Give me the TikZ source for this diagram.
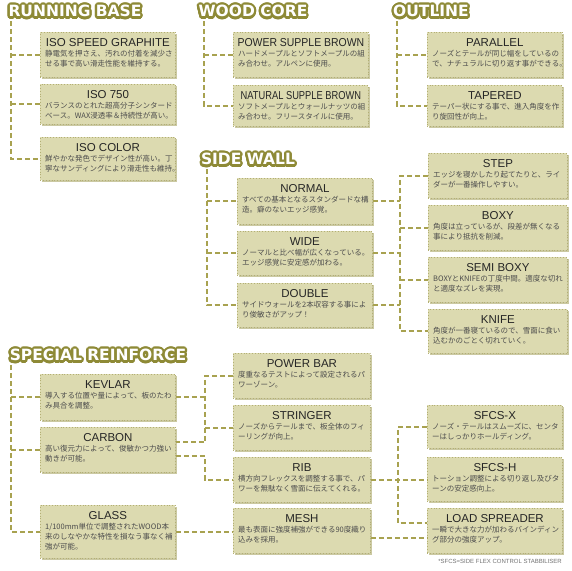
\documentclass[tikz,border=0pt]{standalone}
\usepackage{fontspec}
\usepackage{graphicx}
\usepackage[copies]{contour}
\setmainfont{Liberation Sans}
\newfontfamily\jp{Noto Sans CJK JP}
\newfontfamily\hdfont{DejaVu Sans}
\usetikzlibrary{calc}
\definecolor{olv}{HTML}{8E8A36}
\definecolor{connc}{HTML}{A8A250}
\definecolor{boxfill}{HTML}{DCDAB0}
\definecolor{boxline}{HTML}{B3AF74}
\definecolor{shadowc}{HTML}{CBC9A2}
\definecolor{jptext}{HTML}{4D4D4D}
\contourlength{2.3pt}
\contournumber{20}
\newcommand\hd[1]{\contour{olv}{#1}}
\tikzset{
  hdr/.style={font=\hdfont\bfseries\fontsize{15.5}{15.5}\selectfont, text=white, inner sep=0},
  itembox/.style={draw=boxline, dotted, line width=0.8pt, fill=boxfill, inner sep=0},
  ititle/.style={font=\fontsize{11.5}{12}\selectfont, text=black!85, inner sep=0},
  idesc/.style={font=\jp\fontsize{7.5}{10}\selectfont, text=jptext, align=left, inner sep=0},
  conn/.style={draw=connc, line width=1.9pt, dash pattern=on 5pt off 3pt},
  foot/.style={font=\fontsize{6}{7}\selectfont, text=black!55, inner sep=0}
}
\newcommand\itm[7]{%
  \fill[shadowc] (#2+2,#3+2) rectangle ++(#4,#5);
  \node[itembox, minimum width=#4pt, minimum height=#5pt, anchor=north west] (#1) at (#2,#3) {};
  \node[ititle] (#1t) at ($(#1.north)+(0,11)$) {#6};
  \node[idesc, anchor=north west] (#1d) at ($(#1.north west)+(5,18)$) {#7};
}
\begin{document}
\begin{tikzpicture}[x=1pt,y=-1pt]
\fill[white] (0,0) rectangle (572,570);
\useasboundingbox (0,0) rectangle (572,570);

% headers
\node[hdr] (hRB) at (75,12.5) {\hd{RUNNING BASE}};
\node[hdr] (hWC) at (253,12.5) {\hd{WOOD CORE}};
\node[hdr] (hOL) at (431,12.5) {\hd{OUTLINE}};
\node[hdr] (hSW) at (248,160.5) {\hd{SIDE WALL}};
\node[hdr] (hSR) at (98,356.5) {\hd{SPECIAL REINFORCE}};

% running base
\itm{rb1}{40}{32}{135}{45}{ISO SPEED GRAPHITE}{静電気を押さえ、汚れの付着を減少さ\\せる事で高い滑走性能を維持する。}
\itm{rb2}{40}{84}{135}{40}{ISO 750}{バランスのとれた超高分子シンタード\\ベース。WAX浸透率＆持続性が高い。}
\itm{rb3}{40}{137}{135}{43}{ISO COLOR}{鮮やかな発色でデザイン性が高い。丁\\寧なサンディングにより滑走性も維持。}

% wood core
\itm{wc1}{233}{32}{135}{45}{\scalebox{0.91}[1]{POWER SUPPLE BROWN}}{ハードメープルとソフトメープルの組\\み合わせ。アルペンに使用。}
\itm{wc2}{233}{85}{135}{41}{\scalebox{0.81}[1]{NATURAL SUPPLE BROWN}}{ソフトメープルとウォールナッツの組\\み合わせ。フリースタイルに使用。}

% outline
\itm{ol1}{427}{32}{135}{45}{PARALLEL}{ノーズとテールが同じ幅をしているの\\で、ナチュラルに切り返す事ができる。}
\itm{ol2}{427}{85}{135}{41}{TAPERED}{テーパー状にする事で、進入角度を作\\り旋回性が向上。}

% side wall
\itm{sw1}{237}{178}{135}{46}{NORMAL}{すべての基本となるスタンダードな構\\造。癖のないエッジ感覚。}
\itm{sw2}{237}{231}{135}{44}{WIDE}{ノーマルと比べ幅が広くなっている。\\エッジ感覚に安定感が加わる。}
\itm{sw3}{237}{283}{135}{44}{DOUBLE}{サイドウォールを2本収容する事によ\\り俊敏さがアップ！}

\itm{e1}{428}{153}{139}{45}{STEP}{エッジを寝かしたり起てたりと、ライ\\ダーが一番操作しやすい。}
\itm{e2}{428}{205}{139}{45}{BOXY}{角度は立っているが、段差が無くなる\\事により抵抗を削減。}
\itm{e3}{428}{257}{139}{45}{SEMI BOXY}{BOXYとKNIFEの丁度中間。適度な切れ\\と適度なズレを実現。}
\itm{e4}{428}{309}{139}{44}{KNIFE}{角度が一番寝ているので、雪面に食い\\込むかのごとく切れていく。}

% special reinforce
\itm{sr1}{40}{374}{135}{46}{KEVLAR}{導入する位置や量によって、板のたわ\\み具合を調整。}
\itm{sr2}{40}{427}{135}{45}{CARBON}{高い復元力によって、俊敏かつ力強い\\動きが可能。}
\itm{sr3}{40}{505}{135}{53}{GLASS}{1/100mm単位で調整されたWOOD本\\来のしなやかな特性を損なう事なく補\\強が可能。}

\itm{m1}{233}{353}{137}{45}{POWER BAR}{度重なるテストによって設定されるパ\\ワーゾーン。}
\itm{m2}{233}{405}{137}{45}{STRINGER}{ノーズからテールまで、板全体のフィ\\ーリングが向上。}
\itm{m3}{233}{457}{137}{45}{RIB}{横方向フレックスを調整する事で、パ\\ワーを無駄なく雪面に伝えてくれる。}
\itm{m4}{233}{508}{137}{45}{MESH}{最も表面に強度補強ができる90度織り\\込みを採用。}

\itm{r1}{427}{405}{135}{43}{SFCS-X}{ノーズ・テールはスムーズに、センタ\\ーはしっかりホールディング。}
\itm{r2}{427}{457}{135}{44}{SFCS-H}{トーション調整による切り返し及びタ\\ーンの安定感向上。}
\itm{r3}{427}{508}{135}{45}{LOAD SPREADER}{一瞬で大きな力が加わるバインディン\\グ部分の強度アップ。}

\node[foot, anchor=east] (fn) at (562,561) {*SFCS=SIDE FLEX CONTROL STABBILISER};

% connectors: running base
\coordinate (rbv) at (11,21);
\draw[conn] (rbv) |- (rb3.west);
\draw[conn] (rb1.west -| rbv) -- (rb1.west);
\draw[conn] (rb2.west -| rbv) -- (rb2.west);
% wood core
\coordinate (wcv) at (204,21);
\draw[conn] (wcv) |- (wc2.west);
\draw[conn] (wc1.west -| wcv) -- (wc1.west);
% outline
\coordinate (olv) at (397,21);
\draw[conn] (olv) |- (ol2.west);
\draw[conn] (ol1.west -| olv) -- (ol1.west);
% side wall
\coordinate (swv) at (207,169);
\draw[conn] (swv) |- (sw3.west);
\draw[conn] (sw1.west -| swv) -- (sw1.west);
\draw[conn] (sw2.west -| swv) -- (sw2.west);
\coordinate (swr) at (400,0);
\draw[conn] (e1.west) -| (swr |- e4.west) -- (e4.west);
\draw[conn] (e2.west -| swr) -- (e2.west);
\draw[conn] (e3.west -| swr) -- (e3.west);
\draw[conn] (sw1.east) -- (sw1.east -| swr);
\draw[conn] (sw2.east) -- (sw2.east -| swr);
\draw[conn] (sw3.east) -- (sw3.east -| swr);
% special reinforce
\coordinate (srv) at (11,365);
\draw[conn] (srv) |- (sr3.west);
\draw[conn] (sr1.west -| srv) -- (sr1.west);
\draw[conn] (sr2.west -| srv) -- (sr2.west);
\coordinate (ga) at (205,0);
\coordinate (c2a) at ($(sr2.east)+(0,-7.5)$);
\coordinate (c2b) at ($(sr2.east)+(0,6.5)$);
\draw[conn] (m1.west) -| (c2a -| ga) -- (c2a);
\draw[conn] (sr1.east) -- (sr1.east -| ga);
\draw[conn] (m2.west -| ga) -- (m2.west);
\draw[conn] (c2b) -| (m3.west -| ga) -- (m3.west);
\draw[conn] (sr3.east) -- (sr3.east -| m4.west);
\coordinate (gr) at (398,0);
\coordinate (r3a) at ($(r3.west)+(0,-7.5)$);
\draw[conn] (r1.west) -| (r3a -| gr) -- (r3a);
\draw[conn] (m3.east) -- (m3.east -| r2.west);
\coordinate (m4b) at ($(m4.east)+(0,7)$);
\draw[conn] (m4b) -- (m4b -| r3.west);
\end{tikzpicture}
\end{document}
